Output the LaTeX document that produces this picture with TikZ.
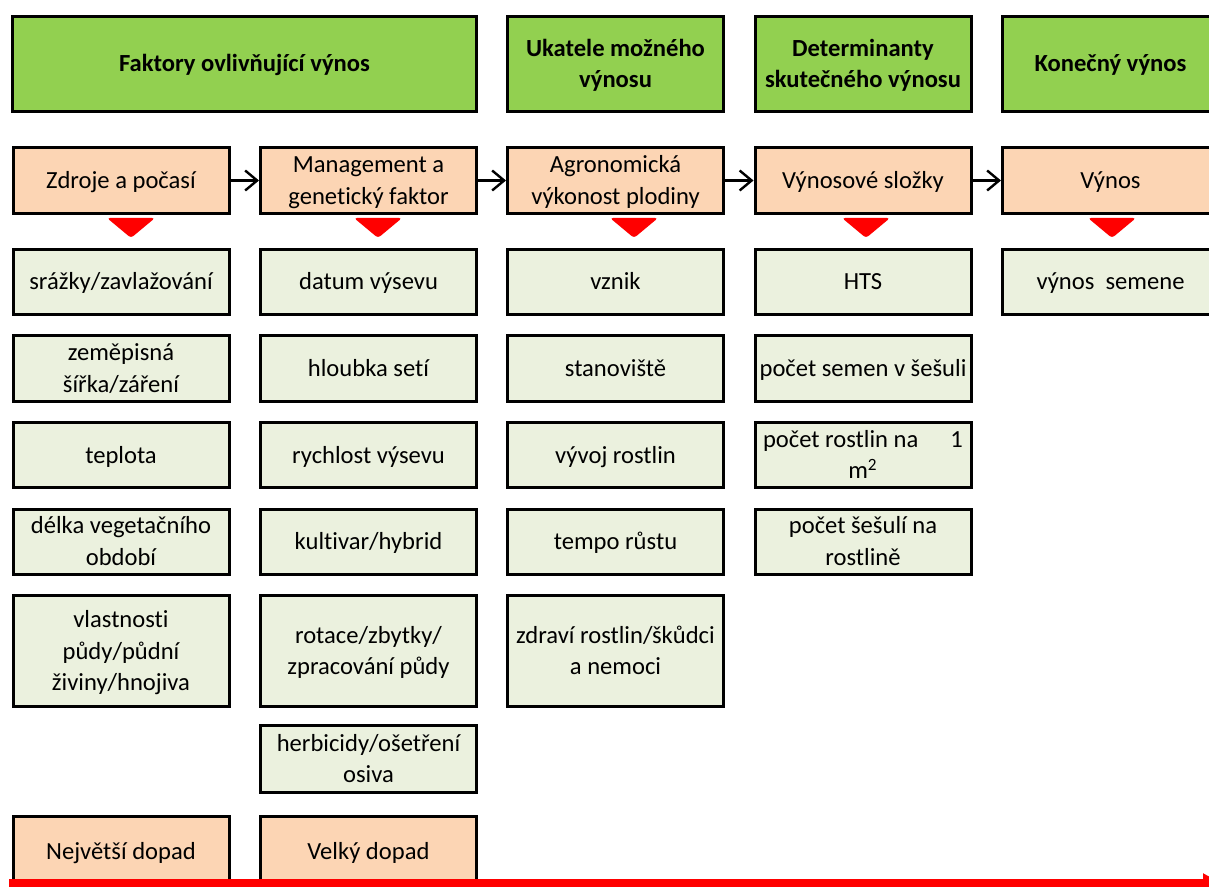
\documentclass[tikz,border=0pt]{standalone}
\usepackage{fontspec}
\setmainfont{Carlito}[Ligatures=NoCommon]
\usetikzlibrary{positioning, arrows.meta, calc}
\definecolor{headgreen}{HTML}{92D050}
\definecolor{peach}{HTML}{FCD5B4}
\definecolor{palegreen}{HTML}{EBF1DE}

\begin{document}
\begin{tikzpicture}[x=0.5pt, y=-0.5pt, node distance=9.25pt,
    every node/.style={font=\fontsize{12.3}{15.8}\selectfont, align=flush center, inner sep=0pt},
    cell/.style={draw, line width=1.5pt, text width=108pt, minimum width=108pt, minimum height=#1,
        execute at begin node={\rule{0pt}{11.2pt}},
        execute at end node={\rule[-3.2pt]{0pt}{3.2pt}}},
    cell/.default=32.5pt,
    head/.style={cell=47.5pt, fill=headgreen, font=\fontsize{12.3}{15.8}\selectfont\bfseries},
    factor/.style={cell=33pt, fill=peach},
    item/.style={cell, fill=palegreen},
    flow/.style={-{Straight Barb[length=6pt,width=10pt]}, line width=1.2pt}]
    \useasboundingbox (0,0) rectangle (1209,887);
    \clip (0,0) rectangle (1209,887);

    % Headers
    \node[head, text width=228pt, minimum width=232pt] (hfaktory) at (244.5,64) {Faktory ovlivňující výnos};
    \node[head] (hukatele) at (615.5,64) {Ukatele možného\\výnosu};
    \node[head] (hdeterm) at (863,64) {Determinanty\\skutečného výnosu};
    \node[head] (hkonec) at (1110.5,64) {Konečný výnos};

    % Factor row
    \node[factor] (zdroje) at (121,180.5) {Zdroje a počasí};
    \node[factor] (management) at (368.5,180.5) {Management a\\genetický faktor};
    \node[factor] (agro) at (615.5,180.5) {Agronomická\\výkonost plodiny};
    \node[factor] (slozky) at (863,180.5) {Výnosové složky};
    \node[factor] (vynos) at (1110.5,180.5) {Výnos};
    \foreach \a/\b in {zdroje/management, management/agro, agro/slozky, slozky/vynos}
        \draw[flow] (\a) -- (\b);

    % Red markers
    \foreach \x in {131,378,634,866,1112}
        \fill[red, rounded corners=1.5pt] (\x-24,218) -- (\x+24,218) -- (\x,238) -- cycle;

    % Column 1
    \node[item, below=16.5pt of zdroje] (srazky) {srážky/zavlažování};
    \node[item, below=of srazky] (sirka) {zeměpisná\\šířka/záření};
    \node[item, below=of sirka] (teplota) {teplota};
    \node[item, below=of teplota] (delka) {délka vegetačního\\období};
    \node[item, minimum height=55.5pt, below=of delka] (puda) {vlastnosti\\půdy/půdní\\živiny/hnojiva};

    % Column 2
    \node[item, below=16.5pt of management] (datum) {datum výsevu};
    \node[item, below=of datum] (hloubka) {hloubka setí};
    \node[item, below=of hloubka] (rychlost) {rychlost výsevu};
    \node[item, below=of rychlost] (kultivar) {kultivar/hybrid};
    \node[item, minimum height=55.5pt, below=of kultivar] (rotace) {rotace/zbytky/\\zpracování půdy};
    \node[item, minimum height=33.5pt, below=8pt of rotace] (herbicidy) {herbicidy/ošetření\\osiva};

    % Column 3
    \node[item, below=16.5pt of agro] (vznik) {vznik};
    \node[item, below=of vznik] (stanoviste) {stanoviště};
    \node[item, below=of stanoviste] (vyvoj) {vývoj rostlin};
    \node[item, below=of vyvoj] (tempo) {tempo růstu};
    \node[item, minimum height=55.5pt, below=of tempo] (zdravi) {zdraví rostlin/škůdci\\a nemoci};

    % Column 4
    \node[item, below=16.5pt of slozky] (hts) {HTS};
    \node[item, below=of hts] (semen) {počet semen v šešuli};
    \node[item, below=of semen] (rostlin) {\makebox[100pt]{počet rostlin na\hfill 1}\\m\textsuperscript{2}};
    \node[item, below=of rostlin] (sesuli) {počet šešulí na\\rostlině};

    % Column 5
    \node[item, below=16.5pt of vynos] (semene) {výnos~~semene};

    % Impact scale
    \node[factor, minimum height=34.5pt] (nejvetsi) at (121,851) {Největší dopad};
    \node[factor, minimum height=34.5pt] (velky) at (368.5,851) {Velký dopad};
    \coordinate (impstart) at (9,884);
    \coordinate (impend) at (1223,884);
    \draw[red, line width=5pt, -{Triangle[length=10pt,width=10pt]}] (impstart) -- (impend);
\end{tikzpicture}
\end{document}
